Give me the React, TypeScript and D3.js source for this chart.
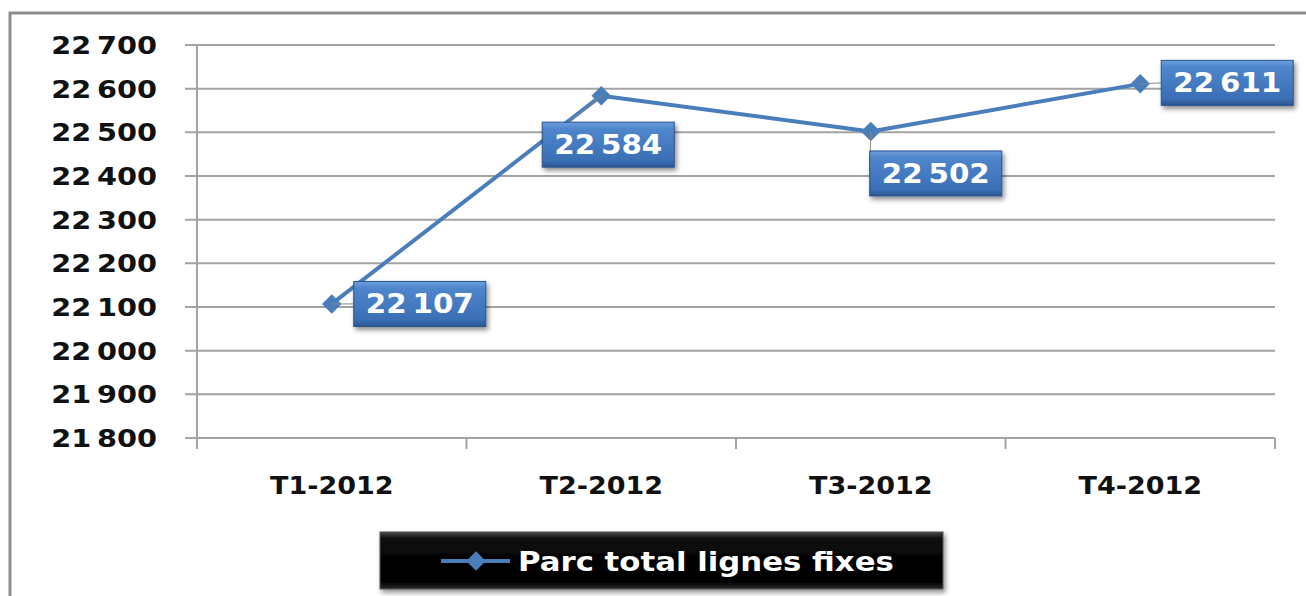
import React from 'react';
import * as d3 from 'd3';

// data
const categories = ["T1-2012", "T2-2012", "T3-2012", "T4-2012"];
const values = [22107, 22584, 22502, 22611];
const seriesName = "Parc total lignes fixes";
const yTicks = [21800, 21900, 22000, 22100, 22200, 22300, 22400, 22500, 22600, 22700];

// where each data label box sits relative to its point (moved by hand in the original)
const labelOffsets = [
  { dx: 88, dy: 0 },
  { dx: 7, dy: 49 },
  { dx: 65, dy: 42 },
  { dx: 87, dy: -1 },
];

const W = 1306;
const H = 596;
const plot = { left: 197, right: 1275, top: 45, bottom: 438 };
const FONT = "'DejaVu Sans', Verdana, sans-serif";
const lineColor = "#4a7ebb";

const fr = d3.formatLocale({ decimal: ",", thousands: "\u2009", grouping: [3], currency: ["", ""] });
const fmt = fr.format(",d");

// text stretched horizontally around its anchor, like the original rendering
const stretch = (ax: number, k: number) => `translate(${ax},0) scale(${k},1) translate(${-ax},0)`;

const App = () => {
  const x = d3.scaleBand<string>().domain(categories).range([plot.left, plot.right]).paddingInner(0).paddingOuter(0);
  const y = d3.scaleLinear().domain([21800, 22700]).range([plot.bottom, plot.top]);
  const cx = (c: string) => (x(c) as number) + x.bandwidth() / 2;

  const line = d3.line<number>()
    .x((d, i) => cx(categories[i]))
    .y(d => y(d));

  const diamond = d3.symbol().type(d3.symbolSquare).size(190)();
  const boundaries = [plot.left, ...categories.map(c => (x(c) as number) + x.bandwidth())];

  const boxW = 132;
  const boxH = 45;

  return (
    <svg width={W} height={H} style={{ position: "absolute", left: 0, top: 0, display: "block", background: "#fff" }}>
      <defs>
        <linearGradient id="blueBox" x1="0" y1="0" x2="0" y2="1">
          <stop offset="0" stopColor="#6d9fdc" />
          <stop offset="0.15" stopColor="#4f86cc" />
          <stop offset="0.85" stopColor="#3a6fb5" />
          <stop offset="1" stopColor="#2a5693" />
        </linearGradient>
        <linearGradient id="blackBox" x1="0" y1="0" x2="0" y2="1">
          <stop offset="0" stopColor="#4a4a4a" />
          <stop offset="0.12" stopColor="#0a0a0a" />
          <stop offset="0.88" stopColor="#000" />
          <stop offset="1" stopColor="#2a2a2a" />
        </linearGradient>
        <filter id="shadow" x="-10%" y="-20%" width="130%" height="160%">
          <feDropShadow dx="2" dy="3" stdDeviation="2.5" floodColor="#000" floodOpacity="0.45" />
        </filter>
      </defs>

      {/* outer chart border */}
      <rect x={10} y={13} width={W + 20} height={H + 20} fill="#fff" stroke="#8c8c8c" strokeWidth={3} />

      {/* gridlines + y labels */}
      {yTicks.map(t => (
        <g key={t}>
          <line x1={plot.left - 12} x2={plot.right} y1={y(t)} y2={y(t)} stroke="#a3a3a3" strokeWidth={2} />
          <text x={157} y={y(t)} dy="0.36em" textAnchor="end" fontFamily={FONT} fontWeight="bold"
            fontSize={25} fill="#111" transform={stretch(157, 1.15)}>{fmt(t)}</text>
        </g>
      ))}

      {/* y axis */}
      <line x1={plot.left} x2={plot.left} y1={plot.top} y2={plot.bottom + 11} stroke="#a3a3a3" strokeWidth={2} />
      {/* x ticks */}
      {boundaries.map((b, i) => (
        <line key={i} x1={b} x2={b} y1={plot.bottom} y2={plot.bottom + 11} stroke="#a3a3a3" strokeWidth={2} />
      ))}
      {/* x labels */}
      {categories.map(c => (
        <text key={c} x={cx(c)} y={485} dy="0.36em" textAnchor="middle" fontFamily={FONT} fontWeight="bold"
          fontSize={25} fill="#111" transform={stretch(cx(c), 1.08)}>{c}</text>
      ))}

      {/* series line */}
      <path d={line(values) || ""} fill="none" stroke={lineColor} strokeWidth={4} strokeLinejoin="round" />
      {values.map((v, i) => (
        <path key={i} d={diamond || ""} transform={`translate(${cx(categories[i])},${y(v)}) rotate(45)`} fill={lineColor} />
      ))}

      {/* data labels */}
      {values.map((v, i) => {
        const px = cx(categories[i]);
        const py = y(v);
        const bx = px + labelOffsets[i].dx;
        const by = py + labelOffsets[i].dy;
        return (
          <g key={i}>
            <line x1={px} y1={py} x2={bx - boxW / 2} y2={by} stroke="#888" strokeWidth={1} />
            <rect x={bx - boxW / 2} y={by - boxH / 2} width={boxW} height={boxH} fill="url(#blueBox)"
              stroke="#2a5290" strokeWidth={1} filter="url(#shadow)" />
            <text x={bx} y={by} dy="0.36em" textAnchor="middle" fontFamily={FONT} fontWeight="bold" fontSize={26}
              fill="#fff" transform={stretch(bx, 1.13)}>{fmt(v)}</text>
          </g>
        );
      })}

      {/* legend */}
      <g>
        <rect x={380} y={532} width={563} height={57} fill="url(#blackBox)" stroke="#555" strokeWidth={1}
          filter="url(#shadow)" />
        <line x1={441} x2={510} y1={561} y2={561} stroke={lineColor} strokeWidth={4} />
        <path d={diamond || ""} transform={`translate(476,561) rotate(45)`} fill={lineColor} />
        <text x={518} y={561} dy="0.36em" fontFamily={FONT} fontWeight="bold" fontSize={27} fill="#fff"
          transform={stretch(518, 1.14)}>{seriesName}</text>
      </g>
    </svg>
  );
};

export default App;
